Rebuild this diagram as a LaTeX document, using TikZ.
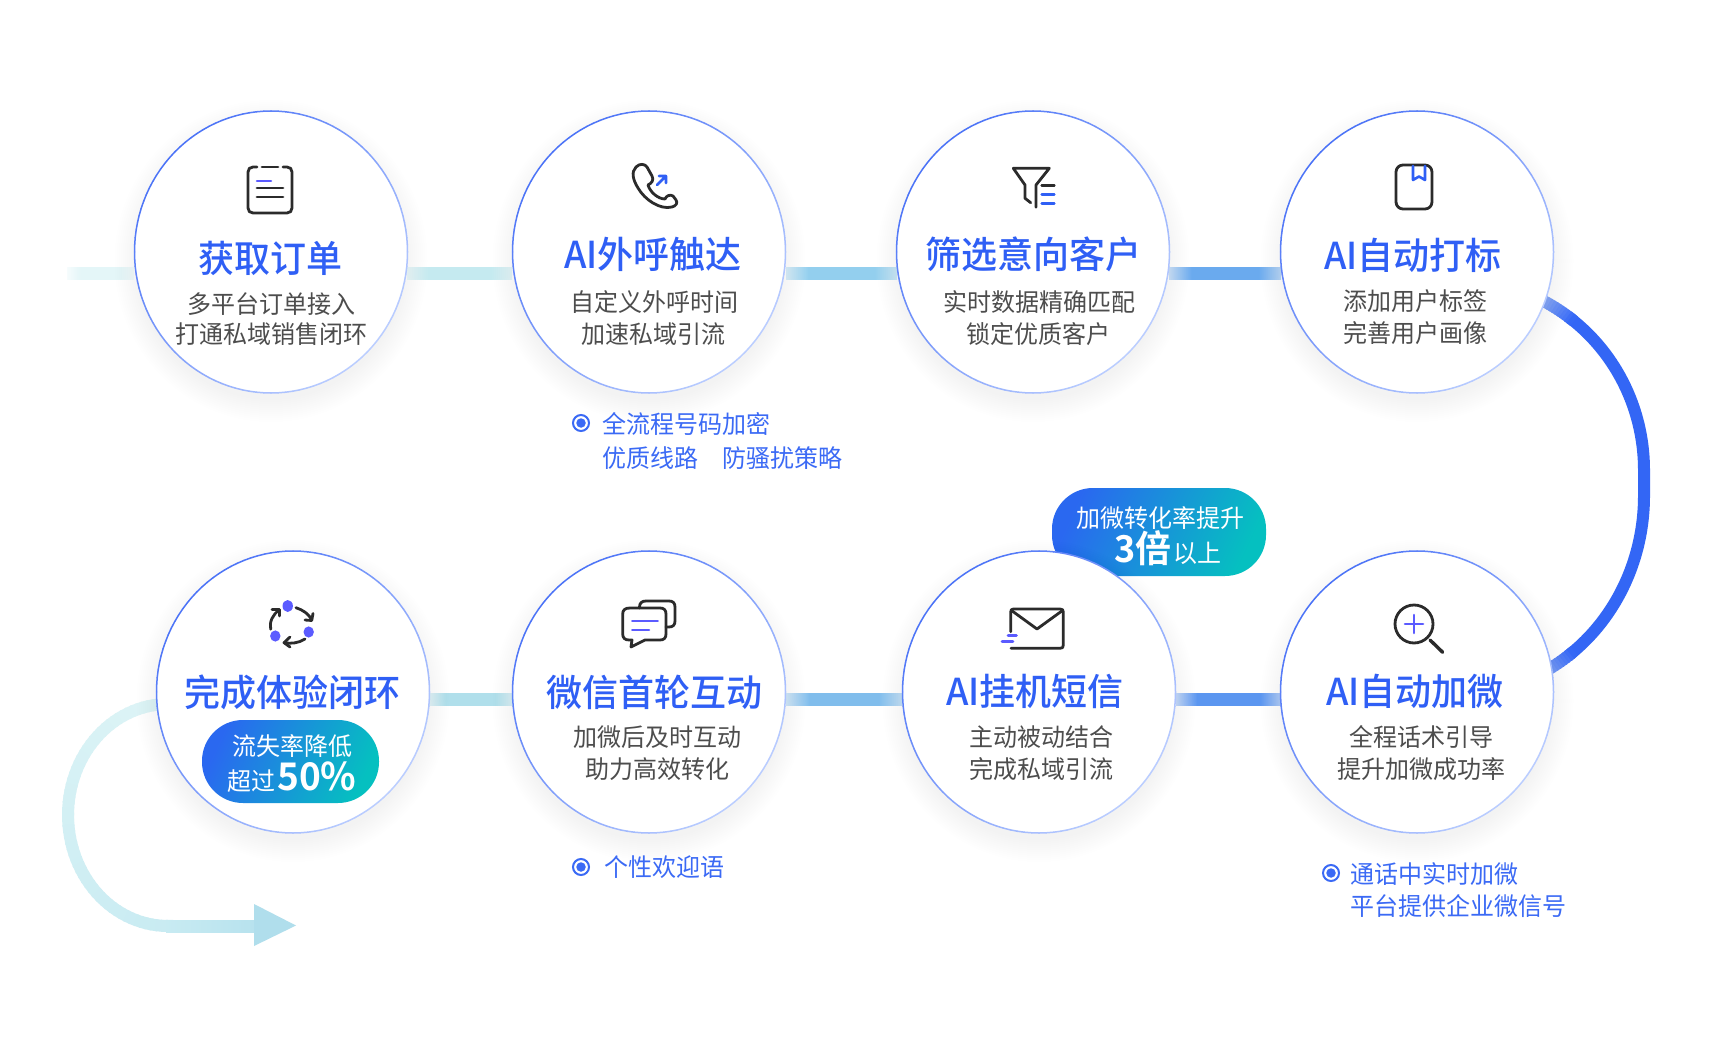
\documentclass[tikz,border=0pt]{standalone}
\usepackage{fontspec}
\usetikzlibrary{shapes.geometric}
\setmainfont{Noto Sans CJK SC}
\newfontfamily\cjkm{Noto Sans CJK SC Medium}
\newfontfamily\cjkb{Noto Sans CJK SC Bold}
\definecolor{ringA}{HTML}{4A72F7}
\definecolor{ringB}{HTML}{BBCEFF}
\definecolor{titleblue}{HTML}{2F5FF5}
\definecolor{noteblue}{HTML}{3B6AF5}
\definecolor{bodygray}{HTML}{4D4D4D}
\definecolor{icondark}{HTML}{2B2B2B}
\definecolor{iconblue}{HTML}{2F5FF5}
\definecolor{iconpurple}{HTML}{5B5BFF}
\definecolor{arcblue}{HTML}{3366F5}
\definecolor{arclight}{HTML}{A8C2F8}
\definecolor{curveA}{HTML}{DDF4F6}
\definecolor{curveB}{HTML}{C8EBF2}
\definecolor{headc}{HTML}{B0DEEC}
\definecolor{pillA}{HTML}{2A68F0}
\definecolor{pillB}{HTML}{05C0C0}
\definecolor{barA}{HTML}{E4F6F8}
\definecolor{barB}{HTML}{C5EAF0}
\definecolor{barC}{HTML}{93CFEE}
\definecolor{barD}{HTML}{6AAAEE}
\definecolor{barE}{HTML}{B0DFEB}
\definecolor{barF}{HTML}{80BDEC}
\definecolor{barG}{HTML}{5B96F0}
\newcommand\defbar[2]{\pgfdeclarehorizontalshading{#1}{100bp}{color(0bp)=(#2!35!white);color(25bp)=(#2!35!white);color(35bp)=(#2);color(65bp)=(#2);color(75bp)=(#2!45!white);color(100bp)=(#2!45!white)}}
\defbar{shA}{barA}\defbar{shB}{barB}\defbar{shC}{barC}\defbar{shD}{barD}\defbar{shE}{barE}\defbar{shF}{barF}\defbar{shG}{barG}
\tikzset{
  x=1pt,y=-1pt,
  disc/.style={ellipse,minimum width=273pt,minimum height=282pt,inner sep=0pt,fill=white},
  titletext/.style={anchor=base,inner sep=0pt,text=titleblue,font=\cjkm\fontsize{36}{36}\selectfont,yscale=1.03,transform shape},
  bodytext/.style={anchor=base,inner sep=0pt,text=bodygray,font=\fontsize{24}{24}\selectfont,yscale=1.03,transform shape},
  notetext/.style={anchor=base west,inner sep=0pt,text=noteblue,font=\fontsize{24}{24}\selectfont,yscale=1.03,transform shape},
  pilltext/.style={anchor=base,inner sep=0pt,text=white,font=\fontsize{24}{24}\selectfont,yscale=1.03,transform shape},
  bigtext/.style={anchor=base,inner sep=0pt,text=white,font=\cjkb\fontsize{36}{36}\selectfont,yscale=1.03,transform shape},
  pill/.style={rectangle,rounded corners=#1,inner sep=0pt,left color=pillA,right color=pillB,shading angle=65},
  ringmark/.style={circle,draw=noteblue,line width=2pt,minimum size=16pt,inner sep=0pt},
  dotmark/.style={circle,fill=noteblue,minimum size=9.5pt,inner sep=0pt},
  dk/.style={draw=icondark,line width=2.8pt,line cap=round,line join=round},
  bl/.style={draw=iconblue,line width=2.6pt,line cap=round,line join=round},
  pu/.style={draw=iconpurple,line width=2.6pt,line cap=round,line join=round},
}
\newcommand\stepcircle[3]{%
  \foreach \k in {0,...,11}{\fill[black,opacity=.004] (#2,#3+9) ellipse [x radius=156.5pt-2pt*\k,y radius=161pt-2pt*\k];}
  \node[disc] (#1) at (#2,#3) {};
  \foreach \a in {0,3,...,357}{%
    \pgfmathtruncatemacro\t{round(50+50*cos(\a-135))}%
    \draw[color=ringA!\t!ringB,line width=1.5pt,line cap=round] ({#2+136.5*cos(\a)},{#3-141*sin(\a)}) -- ({#2+136.5*cos(\a+3)},{#3-141*sin(\a+3)});
  }%
}
\begin{document}
\begin{tikzpicture}
\useasboundingbox (0,0) rectangle (1712,1056);
\fill[white] (0,0) rectangle (1712,1056);

% placeholders for the circles' rims used by the connectors
\coordinate (c1w) at (134,274); \coordinate (c1e) at (407,274);
\coordinate (c2w) at (512,274); \coordinate (c2e) at (786,274);
\coordinate (c3w) at (897,274); \coordinate (c3e) at (1169,274);
\coordinate (c4w) at (1281,274);
\coordinate (c5e) at (429,699); \coordinate (c6w) at (512,699);
\coordinate (c6e) at (786,699); \coordinate (c7w) at (902,699);
\coordinate (c7e) at (1176,699); \coordinate (c8w) at (1281,699);
\coordinate (lefttail) at (67,274);

% straight connectors
\path[shading=shA] ([yshift=6pt]lefttail) rectangle ([yshift=-6pt]c1w);
\path[shading=shB] ([yshift=6pt]c1e) rectangle ([yshift=-6pt]c2w);
\path[shading=shC] ([yshift=6pt]c2e) rectangle ([yshift=-6pt]c3w);
\path[shading=shD] ([yshift=6pt]c3e) rectangle ([yshift=-6pt]c4w);
\path[shading=shE] ([yshift=6pt]c5e) rectangle ([yshift=-6pt]c6w);
\path[shading=shF] ([yshift=6pt]c6e) rectangle ([yshift=-6pt]c7w);
\path[shading=shG] ([yshift=6pt]c7e) rectangle ([yshift=-6pt]c8w);

% right blue curve
\draw[arcblue,line width=12pt] plot[domain=54:0,samples=40] ({1459+185*cos(\x)},{470-190*sin(\x)}) -- (1644,496) -- plot[domain=0:-54,samples=40] ({1459+185*cos(\x)},{496-198*sin(\x)});
\foreach \a in {66,65,...,53}{%
  \pgfmathtruncatemacro\t{(66-\a)*7.6}%
  \draw[color=arcblue!\t!arclight,line width=12pt] ({1459+185*cos(\a)},{470-190*sin(\a)}) -- ({1459+185*cos(\a-1.5)},{470-190*sin(\a-1.5)});
  \draw[color=arcblue!\t!arclight,line width=12pt] ({1459+185*cos(\a)},{496+198*sin(\a)}) -- ({1459+185*cos(\a-1.5)},{496+198*sin(\a-1.5)});
}

% lower left curve with arrow head
\foreach \a in {95,98,...,269}{%
  \pgfmathtruncatemacro\t{(\a-95)/175*100}%
  \draw[color=curveB!\t!curveA,line width=12pt] ({168+100*cos(\a)},{815-111*sin(\a)}) -- ({168+100*cos(\a+4)},{815-111*sin(\a+4)});
}
\path[left color=curveB,right color=headc!70!curveB] (166,920) rectangle (256,932);
\coordinate (headA) at (254,904); \coordinate (headB) at (296,925.5); \coordinate (headC) at (254,946);
\fill[headc] (headA) -- (headB) -- (headC) -- cycle;

% pill behind the circle
\node[pill=41pt,minimum width=214pt,minimum height=88pt] (pilltop) at (1159,532) {};

% circles
\stepcircle{c1}{271}{252}
\stepcircle{c2}{649}{252}
\stepcircle{c3}{1033}{252}
\stepcircle{c4}{1417}{252}
\stepcircle{c5}{293}{692}
\stepcircle{c6}{649}{692}
\stepcircle{c7}{1039}{692}
\stepcircle{c8}{1417}{692}

% titles
\node[titletext] (t1) at (270,273) {获取订单};
\node[titletext] (t2) at (653,269) {AI外呼触达};
\node[titletext] (t3) at (1033,269) {筛选意向客户};
\node[titletext] (t4) at (1413,270) {AI自动打标};
\node[titletext] (t5) at (292,706) {完成体验闭环};
\node[titletext] (t6) at (654,706) {微信首轮互动};
\node[titletext] (t7) at (1035,705) {AI挂机短信};
\node[titletext] (t8) at (1415,705) {AI自动加微};

% body text
\node[bodytext] (b1a) at (271,313) {多平台订单接入};
\node[bodytext] (b1b) at (271,344) {打通私域销售闭环};
\node[bodytext] (b2a) at (654,312) {自定义外呼时间};
\node[bodytext] (b2b) at (653,343) {加速私域引流};
\node[bodytext] (b3a) at (1039,312) {实时数据精确匹配};
\node[bodytext] (b3b) at (1038,343) {锁定优质客户};
\node[bodytext] (b4a) at (1415,311) {添加用户标签};
\node[bodytext] (b4b) at (1415,342) {完善用户画像};
\node[bodytext] (b6a) at (657,746) {加微后及时互动};
\node[bodytext] (b6b) at (657,778) {助力高效转化};
\node[bodytext] (b7a) at (1041,746) {主动被动结合};
\node[bodytext] (b7b) at (1041,778) {完成私域引流};
\node[bodytext] (b8a) at (1421,746) {全程话术引导};
\node[bodytext] (b8b) at (1421,778) {提升加微成功率};

% notes
\node[ringmark] (m2) at (581,423) {}; \node[dotmark] (d2) at (581,423) {};
\node[notetext] (n2a) at (602,433) {全流程号码加密};
\node[notetext] (n2b) at (602,467) {优质线路};
\node[notetext] (n2c) at (722,467) {防骚扰策略};
\node[ringmark] (m6) at (581,867) {}; \node[dotmark] (d6) at (581,867) {};
\node[notetext] (n6) at (604,876) {个性欢迎语};
\node[ringmark] (m8) at (1331,873) {}; \node[dotmark] (d8) at (1331,873) {};
\node[notetext] (n8a) at (1350,883) {通话中实时加微};
\node[notetext] (n8b) at (1350,915) {平台提供企业微信号};

% pills
\node[pill=41pt,minimum width=177pt,minimum height=83pt] (pillbot) at (290.5,761.5) {};
\node[pilltext] (p1) at (292,755) {流失率降低};
\node[pilltext,anchor=base east] (p2) at (276,790) {超过};
\node[bigtext,anchor=base west,font=\cjkb\fontsize{37}{37}\selectfont] (p3) at (277,790) {50\%};
\node[pilltext] (p4) at (1160,527) {加微转化率提升};
\node[bigtext,anchor=base east] (p5) at (1172,562) {3倍};
\node[pilltext,anchor=base west] (p6) at (1173,562) {以上};

% icon 1: notes
\draw[dk] (257,167) -- (253,167) .. controls (250,167) and (248,169) .. (248,172) -- (248,208) .. controls (248,211) and (250,213) .. (253,213) -- (287,213) .. controls (290,213) and (292,211) .. (292,208) -- (292,172) .. controls (292,169) and (290,167) .. (287,167) -- (283,167);
\draw[dk] (262,167) -- (278,167);
\draw[pu] (257,181) -- (271,181);
\draw[dk] (257,188) -- (283,188);
\draw[dk] (257,197) -- (283,197);

% icon 2: phone
\draw[dk] (636,167) .. controls (640,163) and (645,164) .. (647,167) -- (652,176) .. controls (654,180) and (652,183) .. (648,185) .. controls (650,192) and (658,199) .. (665,199) .. controls (666,196) and (670,194) .. (673,196) -- (676,200) .. controls (678,203) and (676,206) .. (672,207) .. controls (660,210) and (645,200) .. (638,188) .. controls (633,180) and (631,172) .. (636,167) -- cycle;
\draw[bl] (657,185) -- (666,176) (659,176) -- (666,176) -- (666,183);

% icon 3: funnel
\draw[dk] (1030.7,202.7) -- (1025,198.3) -- (1025,185) -- (1013.3,168.3) -- (1049.3,168.3) -- (1036,185) -- (1036,207.3);
\draw[dk] (1041.7,185.7) -- (1054.3,185.7);
\draw[bl] (1041.7,194.3) -- (1054.3,194.3) (1041.7,203.3) -- (1054.3,203.3);

% icon 4: bookmark
\draw[dk,rounded corners=7pt] (1396,165) rectangle (1432,209);
\draw[bl] (1413,166) -- (1413,180) -- (1419,176.5) -- (1425,180) -- (1425,166);

% icon 5: cycle
\fill[iconpurple] (287.7,606) ellipse [x radius=5.2pt,y radius=6pt];
\fill[iconpurple] (308.7,632) ellipse [x radius=5.2pt,y radius=5.6pt];
\fill[iconpurple] (275.3,636) ellipse [x radius=5.2pt,y radius=5.6pt];
\draw[dk] (296,607.7) .. controls (303,610) and (309,614) .. (311.7,620);
\draw[dk] (305,620) -- (311.7,620.5) -- (313,613.5);
\draw[dk] (305,639) .. controls (299,643) and (291,644) .. (284.3,642.7);
\draw[dk] (290,637) -- (284,642.7) -- (290,647);
\draw[dk] (270.7,629.3) .. controls (269,622) and (273,614) .. (279.3,610);
\draw[dk] (272,609.5) -- (279.5,609.5) -- (279.5,616);

% icon 6: chat
\draw[dk,line width=2.8pt] (639.5,608) -- (639.5,607) .. controls (639.5,603) and (642,601) .. (646,601) -- (669,601) .. controls (673,601) and (675,603) .. (675,607) -- (675,621) .. controls (675,625) and (673,627) .. (669,627) -- (666,627);
\draw[dk,line width=2.8pt] (630,608) -- (660,608) .. controls (664,608) and (666,610) .. (666,614) -- (666,634) .. controls (666,638) and (664,640) .. (660,640) -- (645,640) -- (631,647) -- (632,640) -- (629,640) .. controls (625,640) and (622.7,638) .. (622.7,634) -- (622.7,614) .. controls (622.7,610) and (625,608) .. (630,608) -- cycle;
\draw[pu] (632.3,621) -- (657.7,621);
\draw[pu] (632.3,630) -- (649,630);

% icon 7: mail
\draw[dk] (1010.7,631.7) -- (1010.7,612) .. controls (1010.7,610) and (1011.5,609) .. (1013.5,609) -- (1060,609) .. controls (1062.5,609) and (1063.3,610) .. (1063.3,612) -- (1063.3,645) .. controls (1063.3,647.5) and (1062.5,648.3) .. (1060,648.3) -- (1011,648.3);
\draw[dk] (1011.5,610.5) -- (1037,629) -- (1062.5,610.5);
\draw[pu] (1008,635.7) -- (1016.5,635.7);
\draw[pu] (1002,641.7) -- (1013,641.7);

% icon 8: magnifier
\draw[dk,line width=2.8pt] (1414,624) circle [radius=19pt];
\draw[dk,line width=3.4pt] (1430,640) -- (1442.7,652.3);
\draw[pu] (1405,624) -- (1423,624) (1414,615) -- (1414,633);
\end{tikzpicture}
\end{document}
